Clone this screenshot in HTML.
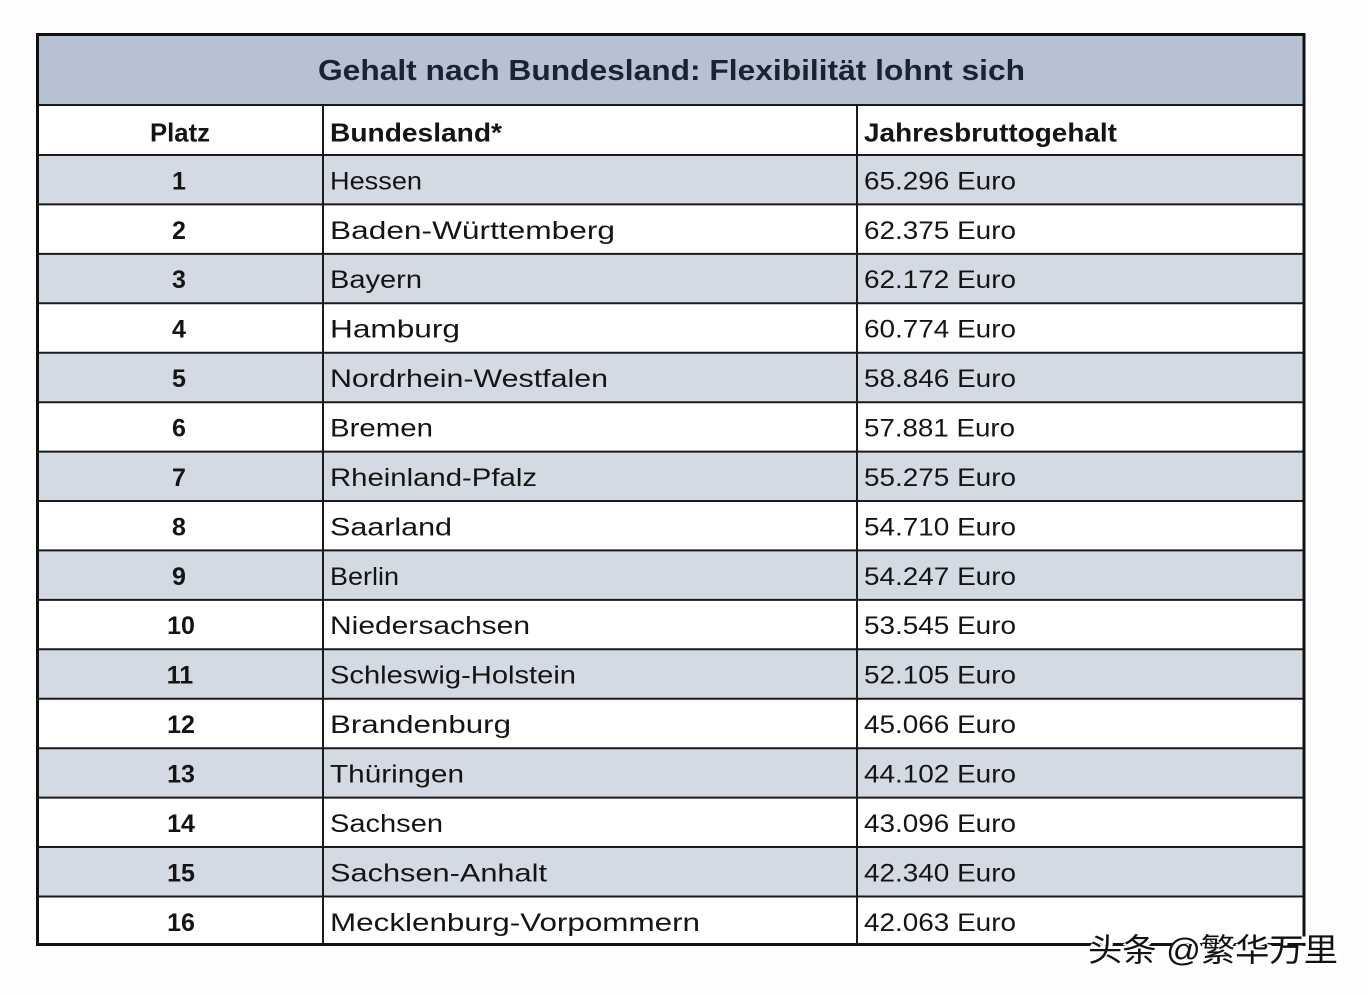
<!DOCTYPE html>
<html><head><meta charset="utf-8"><style>
html,body{margin:0;padding:0;background:#fff;}
svg{display:block;}
text{font-family:"Liberation Sans","Noto Sans CJK SC",sans-serif;fill:#141414;}
.b{font-size:25px;}
.h{font-size:26px;font-weight:bold;}
.n{font-size:25px;font-weight:bold;}
</style></head><body>
<svg width="1368" height="996" viewBox="0 0 1368 996" xmlns="http://www.w3.org/2000/svg">
<rect x="0" y="0" width="1368" height="996" fill="#fdfdfd"/>
<!-- title bg -->
<rect x="37" y="34" width="1267" height="71" fill="#b6c1d2"/>
<rect x="37" y="105" width="1267" height="50" fill="#ffffff"/>
<!-- stripes (odd rows) -->
<g fill="#d4dae3">
<rect x="37" y="155" width="1267" height="49.4"/>
<rect x="37" y="253.9" width="1267" height="49.4"/>
<rect x="37" y="352.7" width="1267" height="49.5"/>
<rect x="37" y="451.6" width="1267" height="49.4"/>
<rect x="37" y="550.4" width="1267" height="49.5"/>
<rect x="37" y="649.3" width="1267" height="49.4"/>
<rect x="37" y="748.2" width="1267" height="49.4"/>
<rect x="37" y="847" width="1267" height="49.5"/>
</g>
<g fill="#ffffff">
<rect x="37" y="204.4" width="1267" height="49.5"/>
<rect x="37" y="303.3" width="1267" height="49.4"/>
<rect x="37" y="402.2" width="1267" height="49.4"/>
<rect x="37" y="501" width="1267" height="49.4"/>
<rect x="37" y="599.9" width="1267" height="49.4"/>
<rect x="37" y="698.7" width="1267" height="49.5"/>
<rect x="37" y="797.6" width="1267" height="49.4"/>
<rect x="37" y="896.5" width="1267" height="48"/>
</g>
<!-- horizontal lines -->
<g stroke="#1a1a1a" stroke-width="2">
<line x1="37" y1="105" x2="1304" y2="105"/>
<line x1="37" y1="155" x2="1304" y2="155"/>
<line x1="37" y1="204.4" x2="1304" y2="204.4"/>
<line x1="37" y1="253.9" x2="1304" y2="253.9"/>
<line x1="37" y1="303.3" x2="1304" y2="303.3"/>
<line x1="37" y1="352.7" x2="1304" y2="352.7"/>
<line x1="37" y1="402.2" x2="1304" y2="402.2"/>
<line x1="37" y1="451.6" x2="1304" y2="451.6"/>
<line x1="37" y1="501" x2="1304" y2="501"/>
<line x1="37" y1="550.4" x2="1304" y2="550.4"/>
<line x1="37" y1="599.9" x2="1304" y2="599.9"/>
<line x1="37" y1="649.3" x2="1304" y2="649.3"/>
<line x1="37" y1="698.7" x2="1304" y2="698.7"/>
<line x1="37" y1="748.2" x2="1304" y2="748.2"/>
<line x1="37" y1="797.6" x2="1304" y2="797.6"/>
<line x1="37" y1="847" x2="1304" y2="847"/>
<line x1="37" y1="896.5" x2="1304" y2="896.5"/>
<line x1="323" y1="105" x2="323" y2="944"/>
<line x1="857" y1="105" x2="857" y2="944"/>
</g>
<!-- outer border -->
<rect x="37.5" y="34.5" width="1266.5" height="910" fill="none" stroke="#111" stroke-width="3"/>

<!-- title -->
<text x="318" y="80" font-size="29" font-weight="bold" style="fill:#1b2232" textLength="707" lengthAdjust="spacingAndGlyphs">Gehalt nach Bundesland: Flexibilität lohnt sich</text>

<!-- header -->
<text class="h" x="150" y="141.5" textLength="60" lengthAdjust="spacingAndGlyphs">Platz</text>
<text class="h" x="330" y="141.5" textLength="172" lengthAdjust="spacingAndGlyphs">Bundesland*</text>
<text class="h" x="864" y="141.5" textLength="253" lengthAdjust="spacingAndGlyphs">Jahresbruttogehalt</text>

<!-- col1 numbers -->
<g class="n" text-anchor="middle">
<text class="n" x="179" y="189.3" text-anchor="middle">1</text>
<text class="n" x="179" y="238.8" text-anchor="middle">2</text>
<text class="n" x="179" y="288.2" text-anchor="middle">3</text>
<text class="n" x="179" y="337.6" text-anchor="middle">4</text>
<text class="n" x="179" y="387.1" text-anchor="middle">5</text>
<text class="n" x="179" y="436.5" text-anchor="middle">6</text>
<text class="n" x="179" y="485.9" text-anchor="middle">7</text>
<text class="n" x="179" y="535.3" text-anchor="middle">8</text>
<text class="n" x="179" y="584.8" text-anchor="middle">9</text>
<text class="n" x="181" y="634.2" text-anchor="middle">10</text>
<text class="n" x="180" y="683.6" text-anchor="middle">11</text>
<text class="n" x="181" y="733.1" text-anchor="middle">12</text>
<text class="n" x="181" y="782.5" text-anchor="middle">13</text>
<text class="n" x="181" y="831.9" text-anchor="middle">14</text>
<text class="n" x="181" y="881.4" text-anchor="middle">15</text>
<text class="n" x="181" y="930.8" text-anchor="middle">16</text>
</g>

<!-- col2 -->
<g>
<text class="b" x="330" y="189.3" textLength="92" lengthAdjust="spacingAndGlyphs">Hessen</text>
<text class="b" x="330" y="238.8" textLength="285" lengthAdjust="spacingAndGlyphs">Baden-Württemberg</text>
<text class="b" x="330" y="288.2" textLength="92" lengthAdjust="spacingAndGlyphs">Bayern</text>
<text class="b" x="330" y="337.6" textLength="130" lengthAdjust="spacingAndGlyphs">Hamburg</text>
<text class="b" x="330" y="387.1" textLength="278" lengthAdjust="spacingAndGlyphs">Nordrhein-Westfalen</text>
<text class="b" x="330" y="436.5" textLength="103" lengthAdjust="spacingAndGlyphs">Bremen</text>
<text class="b" x="330" y="485.9" textLength="207" lengthAdjust="spacingAndGlyphs">Rheinland-Pfalz</text>
<text class="b" x="330" y="535.3" textLength="122" lengthAdjust="spacingAndGlyphs">Saarland</text>
<text class="b" x="330" y="584.8" textLength="69" lengthAdjust="spacingAndGlyphs">Berlin</text>
<text class="b" x="330" y="634.2" textLength="200" lengthAdjust="spacingAndGlyphs">Niedersachsen</text>
<text class="b" x="330" y="683.6" textLength="246" lengthAdjust="spacingAndGlyphs">Schleswig-Holstein</text>
<text class="b" x="330" y="733.1" textLength="181" lengthAdjust="spacingAndGlyphs">Brandenburg</text>
<text class="b" x="330" y="782.5" textLength="134" lengthAdjust="spacingAndGlyphs">Thüringen</text>
<text class="b" x="330" y="831.9" textLength="113" lengthAdjust="spacingAndGlyphs">Sachsen</text>
<text class="b" x="330" y="881.4" textLength="217" lengthAdjust="spacingAndGlyphs">Sachsen-Anhalt</text>
<text class="b" x="330" y="930.8" textLength="370" lengthAdjust="spacingAndGlyphs">Mecklenburg-Vorpommern</text>
</g>

<!-- col3 -->
<g>
<text class="b" x="864" y="189.3" textLength="152" lengthAdjust="spacingAndGlyphs">65.296 Euro</text>
<text class="b" x="864" y="238.8" textLength="152" lengthAdjust="spacingAndGlyphs">62.375 Euro</text>
<text class="b" x="864" y="288.2" textLength="152" lengthAdjust="spacingAndGlyphs">62.172 Euro</text>
<text class="b" x="864" y="337.6" textLength="152" lengthAdjust="spacingAndGlyphs">60.774 Euro</text>
<text class="b" x="864" y="387.1" textLength="152" lengthAdjust="spacingAndGlyphs">58.846 Euro</text>
<text class="b" x="864" y="436.5" textLength="151" lengthAdjust="spacingAndGlyphs">57.881 Euro</text>
<text class="b" x="864" y="485.9" textLength="152" lengthAdjust="spacingAndGlyphs">55.275 Euro</text>
<text class="b" x="864" y="535.3" textLength="152" lengthAdjust="spacingAndGlyphs">54.710 Euro</text>
<text class="b" x="864" y="584.8" textLength="152" lengthAdjust="spacingAndGlyphs">54.247 Euro</text>
<text class="b" x="864" y="634.2" textLength="152" lengthAdjust="spacingAndGlyphs">53.545 Euro</text>
<text class="b" x="864" y="683.6" textLength="152" lengthAdjust="spacingAndGlyphs">52.105 Euro</text>
<text class="b" x="864" y="733.1" textLength="152" lengthAdjust="spacingAndGlyphs">45.066 Euro</text>
<text class="b" x="864" y="782.5" textLength="152" lengthAdjust="spacingAndGlyphs">44.102 Euro</text>
<text class="b" x="864" y="831.9" textLength="152" lengthAdjust="spacingAndGlyphs">43.096 Euro</text>
<text class="b" x="864" y="881.4" textLength="152" lengthAdjust="spacingAndGlyphs">42.340 Euro</text>
<text class="b" x="864" y="930.8" textLength="152" lengthAdjust="spacingAndGlyphs">42.063 Euro</text>
</g>

<!-- watermark -->
<text x="1090" y="963" font-size="32" style="fill:#ffffff;font-family:'Liberation Sans','Noto Sans CJK SC',sans-serif" textLength="250" lengthAdjust="spacingAndGlyphs" stroke="#ffffff" stroke-width="4">头条 @繁华万里</text>
<text x="1088" y="961" font-size="32" style="fill:#111111;font-family:'Liberation Sans','Noto Sans CJK SC',sans-serif" textLength="250" lengthAdjust="spacingAndGlyphs">头条 @繁华万里</text>
</svg>
</body></html>
